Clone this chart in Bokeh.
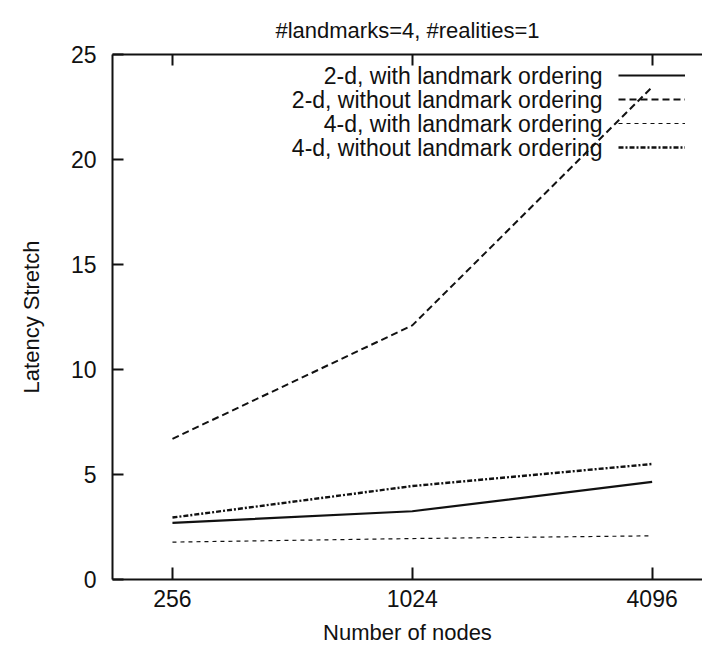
from bokeh.plotting import figure
from bokeh.models import Range1d, FixedTicker, LogAxis, Legend, LegendItem, Label
from bokeh.embed import file_html
from bokeh.resources import INLINE

# ---- data ----
nodes = [256, 1024, 4096]
tick_labels = ["256", "1024", "4096"]
y_ticks = [0, 5, 10, 15, 20, 25]
series_names = [
    "2-d, with landmark ordering",
    "2-d, without landmark ordering",
    "4-d, with landmark ordering",
    "4-d, without landmark ordering",
]
s2d_with = [2.7, 3.25, 4.65]
s2d_without = [6.7, 12.1, 23.45]
s4d_with = [1.78, 1.95, 2.08]
s4d_without = [2.95, 4.45, 5.5]
title_text = "#landmarks=4, #realities=1"
x_label = "Number of nodes"
y_label = "Latency Stretch"

# ---- style ----
FONT = "Liberation Sans"
INK = "#111111"
line_styles = [("solid", 2.2), ("7 4", 2.0), ("4 4", 1.2), ("5 2 2 2", 2.4)]

p = figure(frame_width=590, frame_height=525,
           min_border_left=112, min_border_top=54, min_border_bottom=68, min_border_right=0,
           x_axis_type="log", x_range=Range1d(2 ** 7.5, 2 ** 12.42), y_range=Range1d(0, 25),
           output_backend="svg", toolbar_location=None, title=title_text)
p.outline_line_color = None
p.xgrid.visible = False
p.ygrid.visible = False
p.background_fill_color = "white"
p.border_fill_color = "white"

p.title.text_font = FONT
p.title.text_font_size = "22px"
p.title.text_font_style = "normal"
p.title.text_color = INK
p.title.align = "center"
p.title.standoff = 24

xa = p.below[0]
xa.ticker = FixedTicker(ticks=nodes)
xa.major_label_overrides = {n: t for n, t in zip(nodes, tick_labels)}
xa.major_tick_in = 12
xa.major_tick_out = 0
xa.minor_tick_line_color = None
xa.axis_line_width = 2
xa.major_tick_line_width = 2
xa.axis_line_color = INK
xa.major_tick_line_color = INK
xa.major_label_standoff = 10
xa.major_label_text_font = FONT
xa.major_label_text_font_size = "23px"
xa.major_label_text_color = INK
xa.axis_label = x_label
xa.axis_label_text_font = FONT
xa.axis_label_text_font_size = "22px"
xa.axis_label_text_font_style = "normal"
xa.axis_label_text_color = INK
xa.axis_label_standoff = 10

ya = p.left[0]
ya.ticker = FixedTicker(ticks=y_ticks)
ya.major_tick_in = 11
ya.major_tick_out = 0
ya.minor_tick_line_color = None
ya.axis_line_width = 2
ya.major_tick_line_width = 2
ya.axis_line_color = INK
ya.major_tick_line_color = INK
ya.major_label_standoff = 16
ya.major_label_text_font = FONT
ya.major_label_text_font_size = "23px"
ya.major_label_text_color = INK
ya.axis_label = y_label
ya.axis_label_text_font = FONT
ya.axis_label_text_font_size = "22px"
ya.axis_label_text_font_style = "normal"
ya.axis_label_text_color = INK
ya.axis_label_standoff = 24

top = LogAxis(ticker=FixedTicker(ticks=nodes), major_tick_in=11, major_tick_out=0,
              minor_tick_line_color=None, major_label_text_font_size="1px",
              major_label_text_alpha=0, major_label_standoff=0,
              axis_line_width=2, major_tick_line_width=2,
              axis_line_color=INK, major_tick_line_color=INK)
p.add_layout(top, "above")

series = [s2d_with, s2d_without, s4d_with, s4d_without]
renderers = []
for vals, (dash, w) in zip(series, line_styles):
    r = p.line(nodes, vals, line_color=INK, line_width=w, line_dash=dash)
    renderers.append(r)

legend = Legend(items=[LegendItem(label=" ", renderers=[r]) for r in renderers],
                location=(506, 420), orientation="vertical",
                glyph_width=67, glyph_height=24, label_height=24, label_width=1,
                spacing=0, padding=0, margin=0, label_standoff=0,
                label_text_font_size="1px", border_line_color=None,
                background_fill_alpha=0)
p.add_layout(legend)

for i, name in enumerate(series_names):
    p.add_layout(Label(x=490, y=504 - 24 * i, x_units="screen", y_units="screen",
                       text=name, text_align="right", text_baseline="middle",
                       text_font=FONT, text_font_size="23px", text_color=INK))

open("out.html", "w").write(file_html(p, INLINE))
